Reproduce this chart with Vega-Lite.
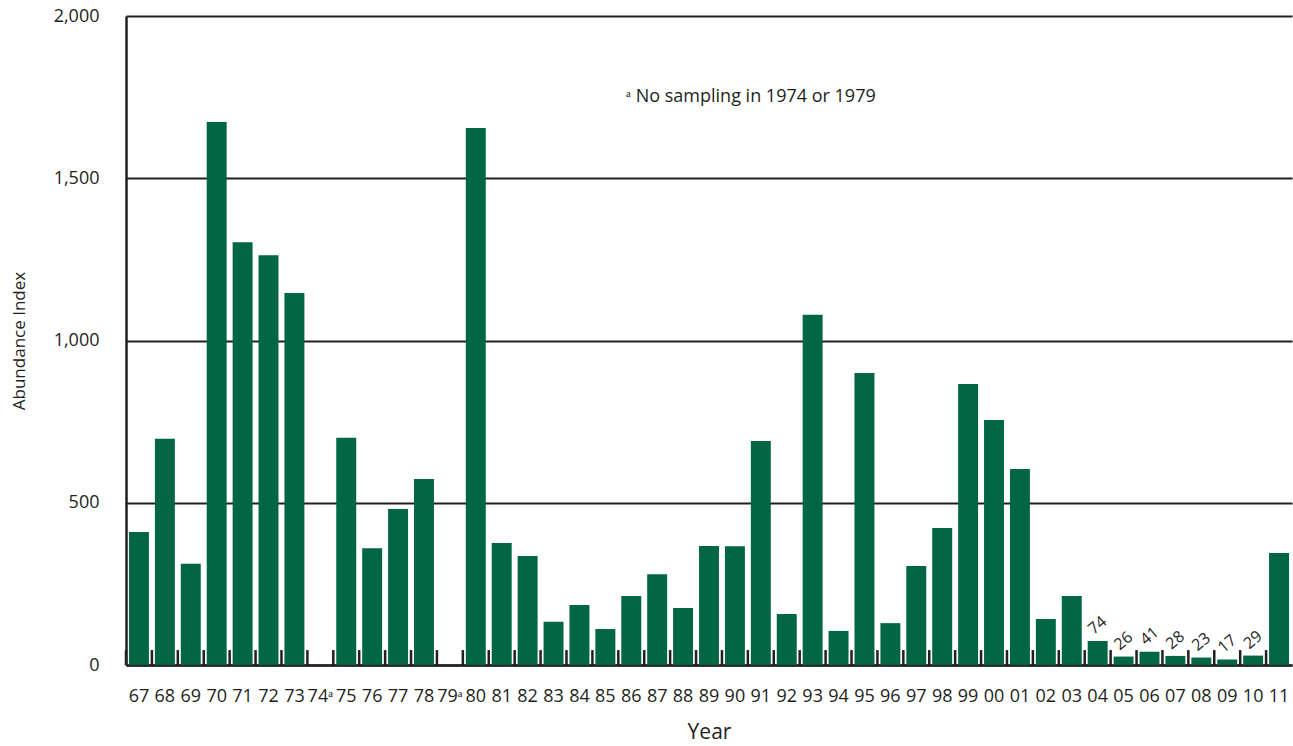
{
  "$schema": "https://vega.github.io/schema/vega-lite/v6.json",
  "width": 1166,
  "height": 649,
  "autosize": {"type": "none"},
  "padding": {"left": 126, "top": 16, "right": 1, "bottom": 81},
  "background": "white",
  "config": {
    "view": {"stroke": null},
    "font": "Open Sans",
    "axis": {"labelColor": "#231f20", "titleColor": "#231f20", "titleFontWeight": "normal", "domainColor": "#231f20", "domainWidth": 2.5, "ticks": false, "gridColor": "#231f20", "gridWidth": 2, "gridOpacity": 1}
  },
  "data": {"values": [
    {"year": "67", "abundance": 410}, {"year": "68", "abundance": 697}, {"year": "69", "abundance": 312},
    {"year": "70", "abundance": 1673}, {"year": "71", "abundance": 1303}, {"year": "72", "abundance": 1263},
    {"year": "73", "abundance": 1146}, {"year": "74", "abundance": null}, {"year": "75", "abundance": 700},
    {"year": "76", "abundance": 360}, {"year": "77", "abundance": 481}, {"year": "78", "abundance": 573},
    {"year": "79", "abundance": null}, {"year": "80", "abundance": 1655}, {"year": "81", "abundance": 376},
    {"year": "82", "abundance": 336}, {"year": "83", "abundance": 133}, {"year": "84", "abundance": 185},
    {"year": "85", "abundance": 111}, {"year": "86", "abundance": 213}, {"year": "87", "abundance": 280},
    {"year": "88", "abundance": 176}, {"year": "89", "abundance": 367}, {"year": "90", "abundance": 366},
    {"year": "91", "abundance": 690}, {"year": "92", "abundance": 157}, {"year": "93", "abundance": 1079},
    {"year": "94", "abundance": 105}, {"year": "95", "abundance": 900}, {"year": "96", "abundance": 129},
    {"year": "97", "abundance": 305}, {"year": "98", "abundance": 422}, {"year": "99", "abundance": 866},
    {"year": "00", "abundance": 755}, {"year": "01", "abundance": 604}, {"year": "02", "abundance": 142},
    {"year": "03", "abundance": 213}, {"year": "04", "abundance": 74}, {"year": "05", "abundance": 26},
    {"year": "06", "abundance": 41}, {"year": "07", "abundance": 28}, {"year": "08", "abundance": 23},
    {"year": "09", "abundance": 17}, {"year": "10", "abundance": 29}, {"year": "11", "abundance": 345}
  ]},
  "layer": [
    {
      "mark": {"type": "bar", "color": "#006644", "width": {"band": 0.77}},
      "encoding": {
        "x": {
          "field": "year", "type": "ordinal", "sort": null,
          "scale": {"domain": ["67","68","69","70","71","72","73","74","75","76","77","78","79","80","81","82","83","84","85","86","87","88","89","90","91","92","93","94","95","96","97","98","99","00","01","02","03","04","05","06","07","08","09","10","11"], "paddingInner": 0, "paddingOuter": 0},
          "axis": {"title": "Year", "labelAngle": 0, "labelFontSize": 18, "labelPadding": 22, "titleFontSize": 21, "titlePadding": 16,
                   "labelExpr": "datum.value == '74' || datum.value == '79' ? datum.value + 'ᵃ' : datum.value"}
        },
        "y": {
          "field": "abundance", "type": "quantitative",
          "scale": {"domain": [0, 2000], "nice": false},
          "axis": {"title": "Abundance Index", "values": [0, 500, 1000, 1500, 2000], "format": ",.0f", "labelFontSize": 18, "labelPadding": 27, "titleFontSize": 17, "titlePadding": 25}
        }
      }
    },
    {
      "mark": {"type": "rule", "color": "#231f20", "strokeWidth": 2.5},
      "encoding": {
        "x": {"field": "year", "type": "ordinal", "bandPosition": 0},
        "y": {"datum": 0},
        "y2": {"datum": 46}
      }
    },
    {
      "transform": [{"filter": "datum.abundance != null && datum.abundance < 100"}],
      "mark": {"type": "text", "angle": -40, "fontSize": 16, "align": "center", "baseline": "middle", "dx": 10, "dy": -12, "color": "#231f20"},
      "encoding": {
        "x": {"field": "year", "type": "ordinal"},
        "y": {"field": "abundance", "type": "quantitative"},
        "text": {"field": "abundance", "type": "quantitative"}
      }
    },
    {
      "data": {"values": [{"note": "ᵃ No sampling in 1974 or 1979", "year": "90", "pos": 1750}]},
      "mark": {"type": "text", "fontSize": 18, "align": "center", "baseline": "middle", "dx": 16, "color": "#231f20"},
      "encoding": {
        "x": {"field": "year", "type": "ordinal"},
        "y": {"field": "pos", "type": "quantitative"},
        "text": {"field": "note"}
      }
    }
  ]
}
